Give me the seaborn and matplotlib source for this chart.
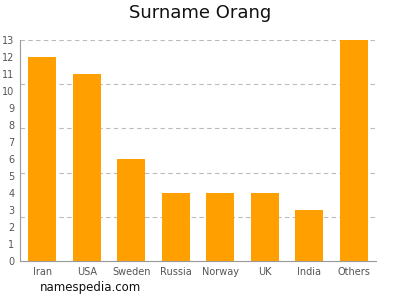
import matplotlib
matplotlib.use("Agg")
import matplotlib.pyplot as plt
import seaborn as sns
import pandas as pd
import numpy as np

countries = ["Iran", "USA", "Sweden", "Russia", "Norway", "UK", "India", "Others"]
counts = [12, 11, 6, 4, 4, 4, 3, 13]
yticks = list(range(0, 14))
grid_levels = [2.6, 5.2, 7.8, 10.4, 13]

sns.set_style("white")
plt.rcParams['font.family'] = ['DejaVu Sans']

df = pd.DataFrame({"country": countries, "count": counts})
fig = plt.figure(figsize=(4, 3), dpi=100)
ax = fig.add_axes([0.05, 0.13, 0.89, 0.737])
for g in grid_levels:
    ax.axhline(g, color="#bbbbbb", linestyle=(0, (4, 3)), linewidth=0.8, zorder=0)
sns.barplot(data=df, x="country", y="count", color="#ffa000", saturation=1, width=0.62,
            linewidth=0, ax=ax, zorder=2)
ax.set_ylim(0, 13)
ax.set_xlim(-0.5, 7.5)
ax.set_yticks(yticks)
ax.set_xlabel("")
ax.set_ylabel("")
ax.tick_params(axis="both", labelsize=7, colors="#555555", length=3, width=0.6, pad=1)
ax.tick_params(axis="x", length=0, pad=4)
for s in ["top", "right"]:
    ax.spines[s].set_visible(False)
for s in ["left", "bottom"]:
    ax.spines[s].set_color("#999999")
    ax.spines[s].set_linewidth(0.8)
fig.suptitle("Surname Orang", fontsize=13, y=0.985, color="#111111")
fig.text(0.1, 0.03, "namespedia.com", fontsize=8.5, color="#111111")
fig.savefig("out.png", dpi=100)
